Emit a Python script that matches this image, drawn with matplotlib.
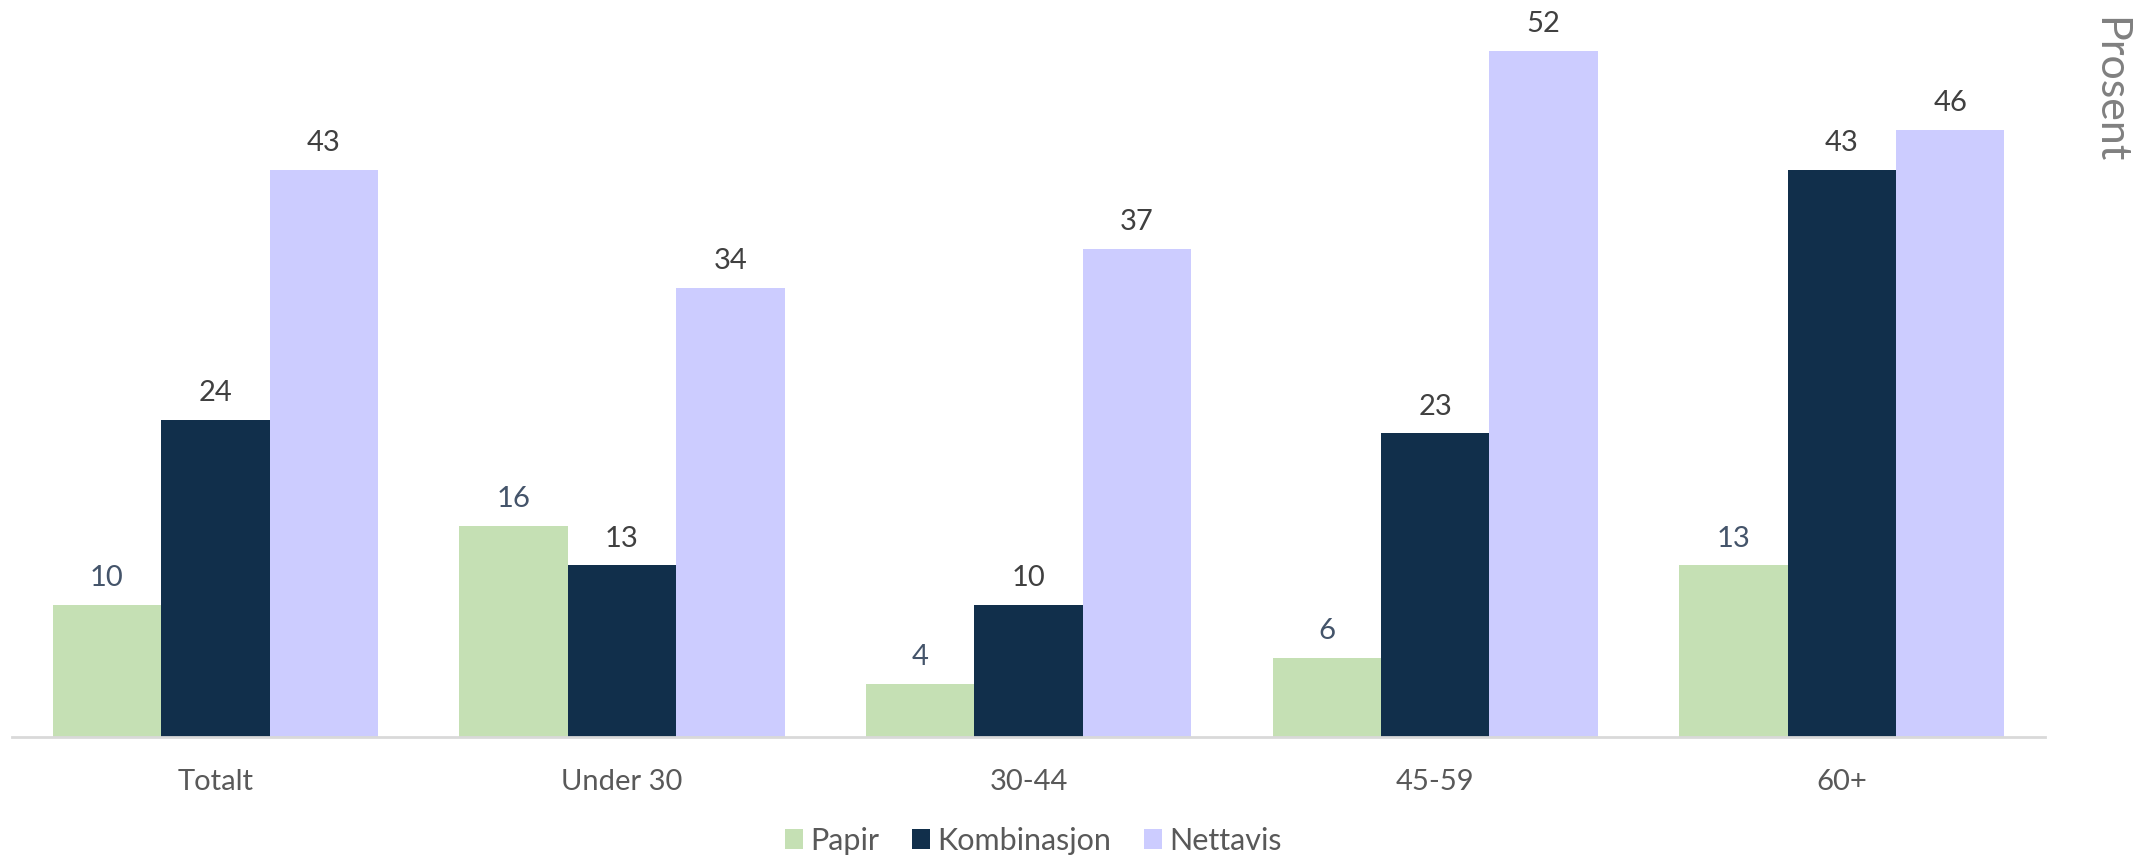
import matplotlib
matplotlib.use("Agg")
import matplotlib.pyplot as plt
import numpy as np

grupper = ["Totalt", "Under 30", "30-44", "45-59", "60+"]
serier = ["Papir", "Kombinasjon", "Nettavis"]
papir = [10, 16, 4, 6, 13]
kombinasjon = [24, 13, 10, 23, 43]
nettavis = [43, 34, 37, 52, 46]

farger = ["#C5E0B4", "#112F4B", "#CCCCFF"]
etikettfarger = ["#44546A", "#404040", "#404040"]

plt.rcParams["font.family"] = ["Lato", "DejaVu Sans"]

fig = plt.figure(figsize=(21.46, 8.57), dpi=100)
ax = fig.add_axes([0.0056, 0.140, 0.9474, 0.847])

x = np.arange(len(grupper))
bredde = 0.8 / 3
for i, (navn, verdier) in enumerate(zip(serier, [papir, kombinasjon, nettavis])):
    bars = ax.bar(x + (i - 1) * bredde, verdier, bredde, color=farger[i], label=navn)
    ax.bar_label(bars, labels=[str(v) for v in verdier], padding=10,
                 fontsize=21, color=etikettfarger[i])

ax.set_xlim(-0.5, len(grupper) - 0.5)
ax.set_ylim(0, 55)
ax.set_xticks(x)
ax.set_xticklabels(grupper, fontsize=21, color="#595959")
ax.tick_params(axis="x", length=0, pad=23)
ax.set_yticks([])
for side in ["left", "right", "top"]:
    ax.spines[side].set_visible(False)
ax.spines["bottom"].set_color("#D9D9D9")
ax.spines["bottom"].set_linewidth(2)

fig.text(0.983, 0.895, "Prosent", rotation=-90, ha="center", va="center",
         fontsize=31, color="#808080")

fig.legend(loc="center", bbox_to_anchor=(0.4815, 0.019), ncol=3, frameon=False,
           fontsize=22, labelcolor="#595959", handlelength=0.6, handleheight=0.6,
           handletextpad=0.25, columnspacing=1.05)

fig.savefig("out.png", dpi=100)
